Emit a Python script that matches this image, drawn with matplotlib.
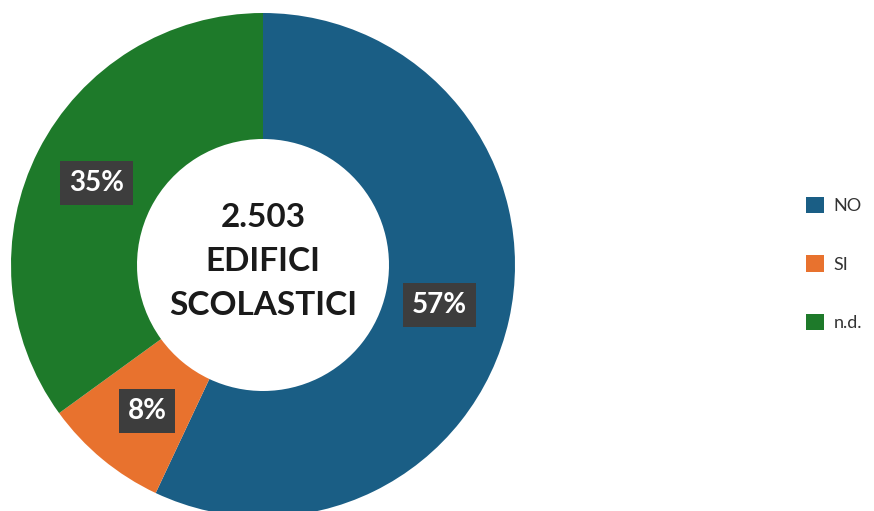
import matplotlib
matplotlib.use("Agg")
import matplotlib.pyplot as plt
import matplotlib.patches as mpatches

# data
labels = ["NO", "SI", "n.d."]
values = [57, 8, 35]
colors = ["#1a5e85", "#e8722e", "#1e7a2a"]
pct_text = ["57%", "8%", "35%"]
center_lines = ["2.503", "EDIFICI", "SCOLASTICI"]

# label anchor positions (data coords of the unit circle)
label_pos = [(0.70, -0.16), (-0.46, -0.58), (-0.66, 0.325)]

plt.rcParams['font.family'] = ['Lato', 'DejaVu Sans']

W, H = 874, 511
fig = plt.figure(figsize=(W / 100, H / 100), dpi=100)

cx, cy, r = 263, 246, 252
ax = fig.add_axes([(cx - r) / W, (cy - r) / H, 2 * r / W, 2 * r / H])
ax.pie(values, colors=colors, startangle=90, counterclock=False,
       radius=1.0, wedgeprops=dict(width=0.5, linewidth=0))
ax.set_xlim(-1, 1)
ax.set_ylim(-1, 1)
ax.set_aspect('equal')
ax.axis('off')

for (x, y), t in zip(label_pos, pct_text):
    ax.text(x, y, t, ha='center', va='center', fontsize=20,
            fontweight='bold', color='white',
            bbox=dict(boxstyle='square,pad=0.32', facecolor='#3d3d3d',
                      edgecolor='none'))

for i, line in enumerate(center_lines):
    ax.text(0, 0.19 - i * 0.175, line, ha='center', va='center',
            fontsize=24, fontweight='bold', color='#1a1a1a')

handles = [mpatches.Patch(facecolor=c, edgecolor='none', label=l)
           for c, l in zip(colors, labels)]
leg = fig.legend(handles=handles, loc='center left',
                 bbox_to_anchor=(790 / W, 1 - 264 / H), frameon=False,
                 fontsize=13, labelspacing=2.3, handlelength=1.0,
                 handleheight=1.0, handletextpad=0.5, labelcolor='#333333')

fig.savefig("out.png", dpi=100)
